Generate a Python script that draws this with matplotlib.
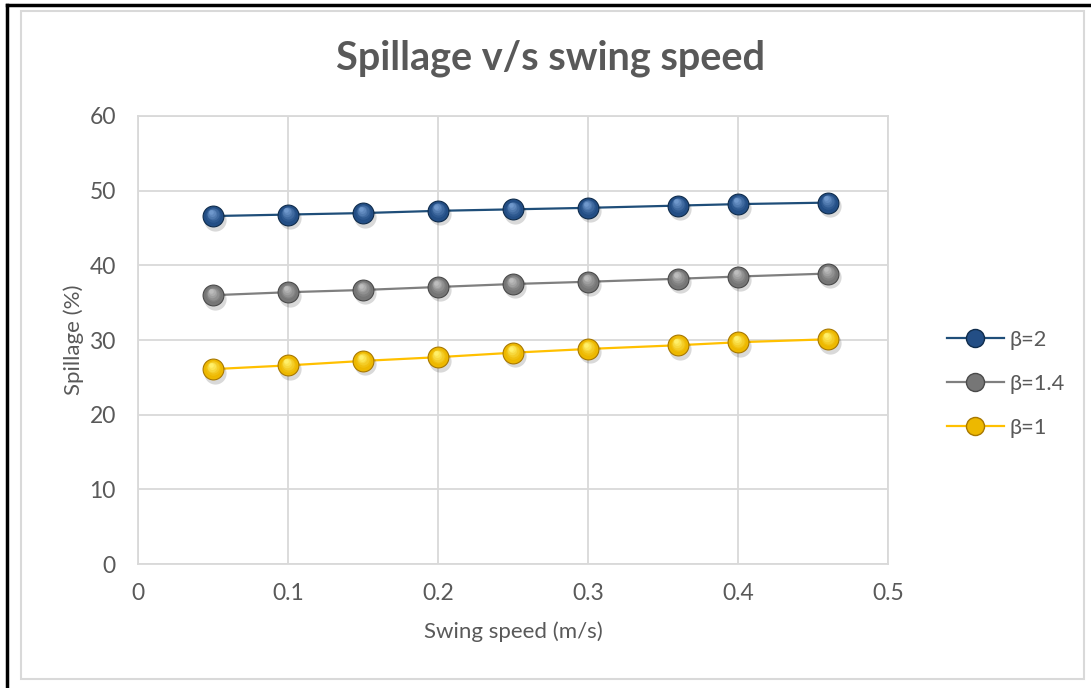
import matplotlib.pyplot as plt
import matplotlib.transforms as mtransforms
from matplotlib.lines import Line2D
from matplotlib.patches import Rectangle
import numpy as np

plt.rcParams['font.family'] = ['Lato', 'DejaVu Sans']

# Data
speed = [0.05, 0.1, 0.15, 0.2, 0.25, 0.3, 0.36, 0.4, 0.46]
beta_2 = [46.6, 46.8, 47.0, 47.3, 47.5, 47.7, 48.0, 48.2, 48.4]
beta_14 = [36.0, 36.4, 36.7, 37.1, 37.5, 37.8, 38.2, 38.5, 38.9]
beta_1 = [26.1, 26.6, 27.2, 27.7, 28.3, 28.8, 29.3, 29.7, 30.1]
labels = ["β=2", "β=1.4", "β=1"]

# (line colour, dark edge, base, highlight)
styles = [
    ("#1F4E79", "#0F2C4C", "#234E85", "#6F98CC"),
    ("#7F7F7F", "#4A4A4A", "#767676", "#BDBDBD"),
    ("#FFC000", "#A87800", "#EDB800", "#FFF06A"),
]
text_col = "#595959"
grid_col = "#D9D9D9"

fig = plt.figure(figsize=(10.91, 6.88), dpi=100)
ax = fig.add_axes([0.1265, 0.1802, 0.6874, 0.6512])

def sphere(ax, x, y, cols, ms=15):
    line, edge, base, hi = cols
    shadow = mtransforms.offset_copy(ax.transData, fig=fig, x=1.5, y=-2.5, units='points')
    ax.plot(x, y, ls='none', marker='o', ms=ms + 1, color='#000000', alpha=0.15,
            mec='none', transform=shadow, zorder=3)
    ax.plot(x, y, ls='none', marker='o', ms=ms, mfc=base, mec=edge, mew=0.8, zorder=4)
    # fake gradient: smaller lighter circles shifted upward
    c0 = np.array(plt.matplotlib.colors.to_rgb(base))
    c1 = np.array(plt.matplotlib.colors.to_rgb(hi))
    for i, f in enumerate(np.linspace(0.15, 1.0, 5)):
        size = ms * (0.7 - 0.12 * i)
        off = mtransforms.offset_copy(ax.transData, fig=fig, x=-0.3 * i, y=0.6 + 0.6 * i, units='points')
        col = c0 + (c1 - c0) * f
        ax.plot(x, y, ls='none', marker='o', ms=size, mfc=col, mec='none',
                transform=off, zorder=5 + i)

for yv, st in zip([beta_2, beta_14, beta_1], styles):
    ax.plot(speed, yv, color=st[0], lw=1.6, zorder=2)
    sphere(ax, speed, yv, st)

ax.set_xlim(0, 0.5)
ax.set_ylim(0, 60)
ax.set_xticks(np.arange(0, 0.51, 0.1))
ax.set_xticklabels(["0", "0.1", "0.2", "0.3", "0.4", "0.5"])
ax.set_yticks(range(0, 61, 10))
ax.grid(True, color=grid_col, lw=1.3)
ax.set_axisbelow(True)
for s in ax.spines.values():
    s.set_color(grid_col)
    s.set_linewidth(1.3)
ax.tick_params(axis='x', length=0, labelsize=16.5, colors=text_col, pad=14)
ax.tick_params(axis='y', length=0, labelsize=16.5, colors=text_col, pad=16)

ax.set_xlabel("Swing speed (m/s)", fontsize=16, color=text_col, labelpad=12)
ax.set_ylabel("Spillage (%)", fontsize=16, color=text_col, labelpad=4)
fig.text(0.505, 0.915, "Spillage v/s swing speed", ha='center', va='center',
         fontsize=28.5, fontweight='bold', color=text_col)

handles = [Line2D([0], [0], color=st[0], lw=1.6, marker='o', ms=13,
                  mfc=st[2], mec=st[1]) for st in styles]
fig.legend(handles, labels, loc='center left', bbox_to_anchor=(0.85, 0.442),
           frameon=False, fontsize=15.7, labelcolor=text_col, handlelength=2.6,
           handletextpad=0.25, labelspacing=1.1)

# chart frame
fig.patches.append(Rectangle((21 / 1091, 1 - 679 / 688), 1063 / 1091, 668 / 688,
                             transform=fig.transFigure, fill=False,
                             edgecolor=grid_col, lw=1.5))
fig.add_artist(Line2D([7 / 1091, 7 / 1091], [0, 1 - 5 / 688], transform=fig.transFigure,
                      color='black', lw=2.5))
fig.add_artist(Line2D([7 / 1091, 1], [1 - 5 / 688, 1 - 5 / 688], transform=fig.transFigure,
                      color='black', lw=2.5))

fig.savefig("out.png", dpi=100, facecolor='white')
